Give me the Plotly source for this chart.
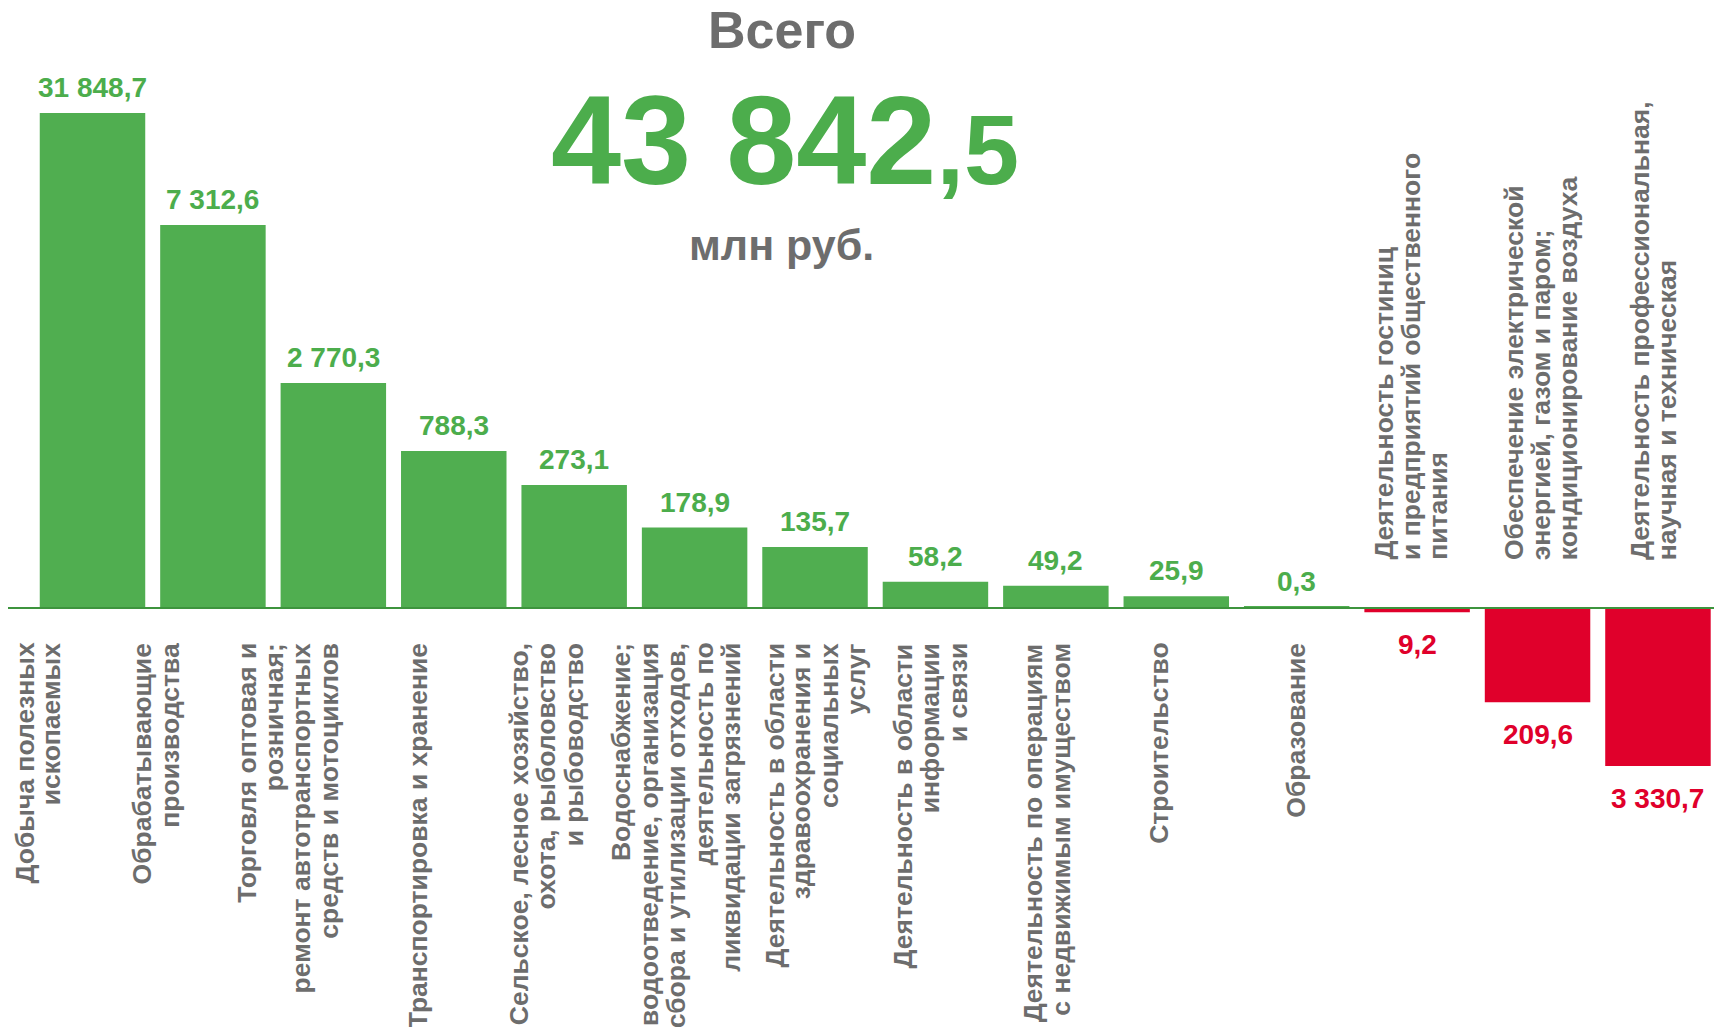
import plotly.graph_objects as go

# ---------------- data ----------------
categories = [
    "Добыча полезных\nископаемых",
    "Обрабатывающие\nпроизводства",
    "Торговля оптовая и\nрозничная;\nремонт автотранспортных\nсредств и мотоциклов",
    "Транспортировка и хранение",
    "Сельское, лесное хозяйство,\nохота, рыболовство\nи рыбоводство",
    "Водоснабжение;\nводоотведение, организация\nсбора и утилизации отходов,\nдеятельность по\nликвидации загрязнений",
    "Деятельность в области\nздравоохранения и\nсоциальных\nуслуг",
    "Деятельность в области\nинформации\nи связи",
    "Деятельность по операциям\nс недвижимым имуществом",
    "Строительство",
    "Образование",
    "Деятельность гостиниц\nи предприятий общественного\nпитания",
    "Обеспечение электрической\nэнергией, газом и паром;\nкондиционирование воздуха",
    "Деятельность профессиональная,\nнаучная и техническая",
]
# values printed on the chart, mln rub.
values = [31848.7, 7312.6, 2770.3, 788.3, 273.1, 178.9, 135.7, 58.2, 49.2, 25.9, 0.3,
          -9.2, -209.6, -3330.7]
# bar lengths as drawn in the source infographic (not to scale above ~300)
bar_lengths = [1100, 851, 500, 349, 273.1, 178.9, 135.7, 58.2, 49.2, 25.9, 3,
               -9.2, -209.6, -351]
total_value = 43842.5
title_word = "Всего"
unit_text = "млн руб."

# ---------------- styles / layout ----------------
W, H = 1714, 1027
FONT = "Liberation Sans, Arial, sans-serif"
GREEN = "#50AE50"
GREEN_TXT = "#4CAD4C"
RED = "#E0002B"
GRAY = "#6D6D6D"
AXIS_GREEN = "#3D943D"
px_per_unit = 0.45
baseline_px = 608
y_top = baseline_px / px_per_unit
y_bottom = -(H - baseline_px) / px_per_unit
slot = 120.42
first_center = 92.5
x_lo = -first_center / slot
x_hi = (W - first_center) / slot

# horizontal shift (px) of the first label line relative to the bar centre
label_first_shift = [-68.5, -71, -86.5, -36, -55, -73.5, -41, -32.5, -23, -18, -1.5,
                     -34, -24, -18]
line_gap = 27.3
LABEL_SIZE = 26.5
VALUE_SIZE = 28


def fmt(v):
    s = f"{abs(v):,.1f}"
    return s.replace(",", " ").replace(".", ",")


colors = [GREEN if v >= 0 else RED for v in values]

fig = go.Figure()
fig.add_trace(go.Bar(
    x=categories,
    y=bar_lengths,
    marker=dict(color=colors, line=dict(width=0)),
    width=0.876,
    hoverinfo="skip",
))

annotations = []
# value labels
for cat, v, L in zip(categories, values, bar_lengths):
    pos = v >= 0
    annotations.append(dict(
        x=cat, y=L, xref="x", yref="y", text=fmt(v), showarrow=False,
        xanchor="center", yanchor="bottom" if pos else "top",
        yshift=8 if pos else -15,
        font=dict(family=FONT, size=VALUE_SIZE, color=GREEN_TXT if pos else RED,
                  weight="bold"),
    ))

# category labels (rotated, one annotation per line)
for i, (cat, v) in enumerate(zip(categories, values)):
    lines = cat.split("\n")
    pos = v >= 0
    for k, line in enumerate(lines):
        annotations.append(dict(
            x=cat, y=0, xref="x", yref="y", text=line, showarrow=False,
            textangle=-90, xanchor="center",
            yanchor="top" if pos else "bottom",
            yshift=-33 if pos else 46,
            xshift=label_first_shift[i] + k * line_gap,
            font=dict(family=FONT, size=LABEL_SIZE, color=GRAY, weight="bold"),
        ))

# headline
int_part, dec_part = fmt(total_value).split(",")
annotations.append(dict(
    x=782 / W, y=1 - 61 / H, xref="paper", yref="paper", text=title_word,
    showarrow=False, xanchor="center", yanchor="bottom",
    font=dict(family=FONT, size=52, color=GRAY, weight="bold"),
))
annotations.append(dict(
    x=785 / W, y=1 - 213 / H, xref="paper", yref="paper",
    text=f"{int_part}<span style='font-size:99px'>,{dec_part}</span>",
    showarrow=False, xanchor="center", yanchor="bottom",
    font=dict(family=FONT, size=126, color=GREEN_TXT, weight="bold"),
))
annotations.append(dict(
    x=781 / W, y=1 - 271 / H, xref="paper", yref="paper", text=unit_text,
    showarrow=False, xanchor="center", yanchor="bottom",
    font=dict(family=FONT, size=43, color=GRAY, weight="bold"),
))

fig.update_layout(
    width=W, height=H,
    margin=dict(l=0, r=0, t=0, b=0),
    paper_bgcolor="white", plot_bgcolor="white",
    showlegend=False,
    xaxis=dict(range=[x_lo, x_hi], showticklabels=False, showgrid=False,
               zeroline=False, showline=False, ticks=""),
    yaxis=dict(range=[y_bottom, y_top], showticklabels=False, showgrid=False,
               zeroline=False, showline=False, ticks=""),
    annotations=annotations,
    shapes=[dict(type="line", xref="x", yref="y", x0=(8 - first_center) / slot,
                 x1=x_hi, y0=0, y1=0, line=dict(color=AXIS_GREEN, width=2),
                 layer="above")],
)

fig.write_html("out.html", config={"displayModeBar": False},
               post_script="document.body.style.margin='0';document.body.style.overflow='hidden';")
